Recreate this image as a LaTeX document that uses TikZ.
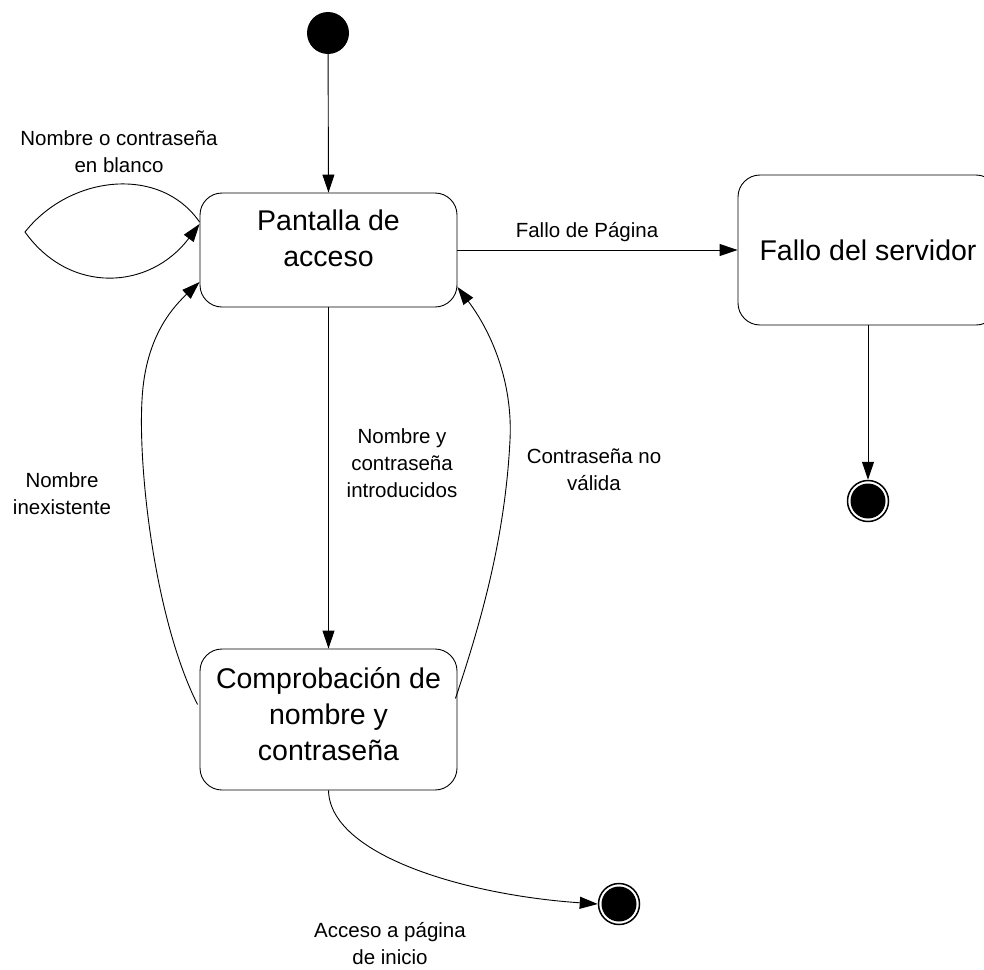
\documentclass[tikz,border=0pt]{standalone}
\usepackage{fontspec}
\setmainfont{Liberation Sans}
\usetikzlibrary{arrows.meta,calc}
\begin{document}
\begin{tikzpicture}[x=1pt,y=-1pt,
  stbox/.style={draw, line width=0.9pt, rounded corners=22pt, inner sep=0pt},
  boxtext/.style={font=\fontsize{28.5}{36}\selectfont, align=center},
  lbl/.style={font=\fontsize{20.5}{27}\selectfont, align=center},
  conn/.style={line width=0.9pt, -{Triangle[length=18pt,width=12pt]}},
  initst/.style={circle, fill=black, minimum size=42pt, inner sep=0pt},
  finst/.style={circle, draw, line width=1.5pt, minimum size=41pt, inner sep=0pt,
    path picture={\fill (path picture bounding box.center) circle (17.5pt);}},
]
\useasboundingbox (0,0) rectangle (984,969);

% states
\node[initst] (init) at (328,33) {};
\node[stbox, minimum width=257pt, minimum height=114pt,
  label={[boxtext, yshift=12pt]center:Pantalla de\\acceso}] (pant) at (328.5,250) {};
\node[stbox, minimum width=260pt, minimum height=150pt,
  label={[boxtext]center:Fallo del servidor}] (fallo) at (868,250) {};
\node[stbox, minimum width=257pt, minimum height=141pt,
  label={[boxtext, yshift=5pt]center:Comprobación de\\nombre y\\contraseña}] (comp) at (328.5,719.5) {};
\node[finst] (fin1) at (868,501) {};
\node[finst] (fin2) at (619,904) {};

% labels
\node[lbl] (l1) at (119,152) {Nombre o contraseña\\en blanco};
\node[lbl] (l2) at (587,232) {Fallo de Página};
\node[lbl] (l3) at (402,463) {Nombre y\\contraseña\\introducidos};
\node[lbl] (l4) at (62,494) {Nombre\\inexistente};
\node[lbl] (l5) at (594,470) {Contraseña no\\válida};
\node[lbl] (l6) at (390,944) {Acceso a página\\de inicio};

% connectors
\draw[conn] (init) -- (pant.north);
\draw[conn] (pant.east) -- (fallo.west);
\draw[conn] (pant.south) -- (comp.north);
\draw[conn] (fallo.south) -- (fin1.north);

% self loop
\coordinate (ls) at ($(pant.west)+(0,-28)$);
\coordinate (le) at ($(pant.west)+(0,-26)$);
\coordinate (lt) at (25,232);
\draw[conn] (ls) .. controls (160,165) and (70,175) .. (lt)
  .. controls (70,295) and (150,290) .. (le);

% Nombre inexistente
\coordinate (as) at ($(comp.west)+(-2,-15)$);
\coordinate (ae) at ($(pant.west)+(0,32)$);
\draw[conn] (as) .. controls (155,620) and (138,470) .. (142,400)
  .. controls (145,340) and (170,310) .. (ae);

% Contraseña no válida
\coordinate (bs) at ($(comp.east)+(-2,-21)$);
\coordinate (be) at ($(pant.east)+(0,37)$);
\draw[conn] (bs) .. controls (480,625) and (505,540) .. (510,440)
  .. controls (513,380) and (490,330) .. (be);

% Acceso a página de inicio
\draw[conn] (comp.south) .. controls (330,855) and (465,895) .. (fin2.west);
\end{tikzpicture}
\end{document}
